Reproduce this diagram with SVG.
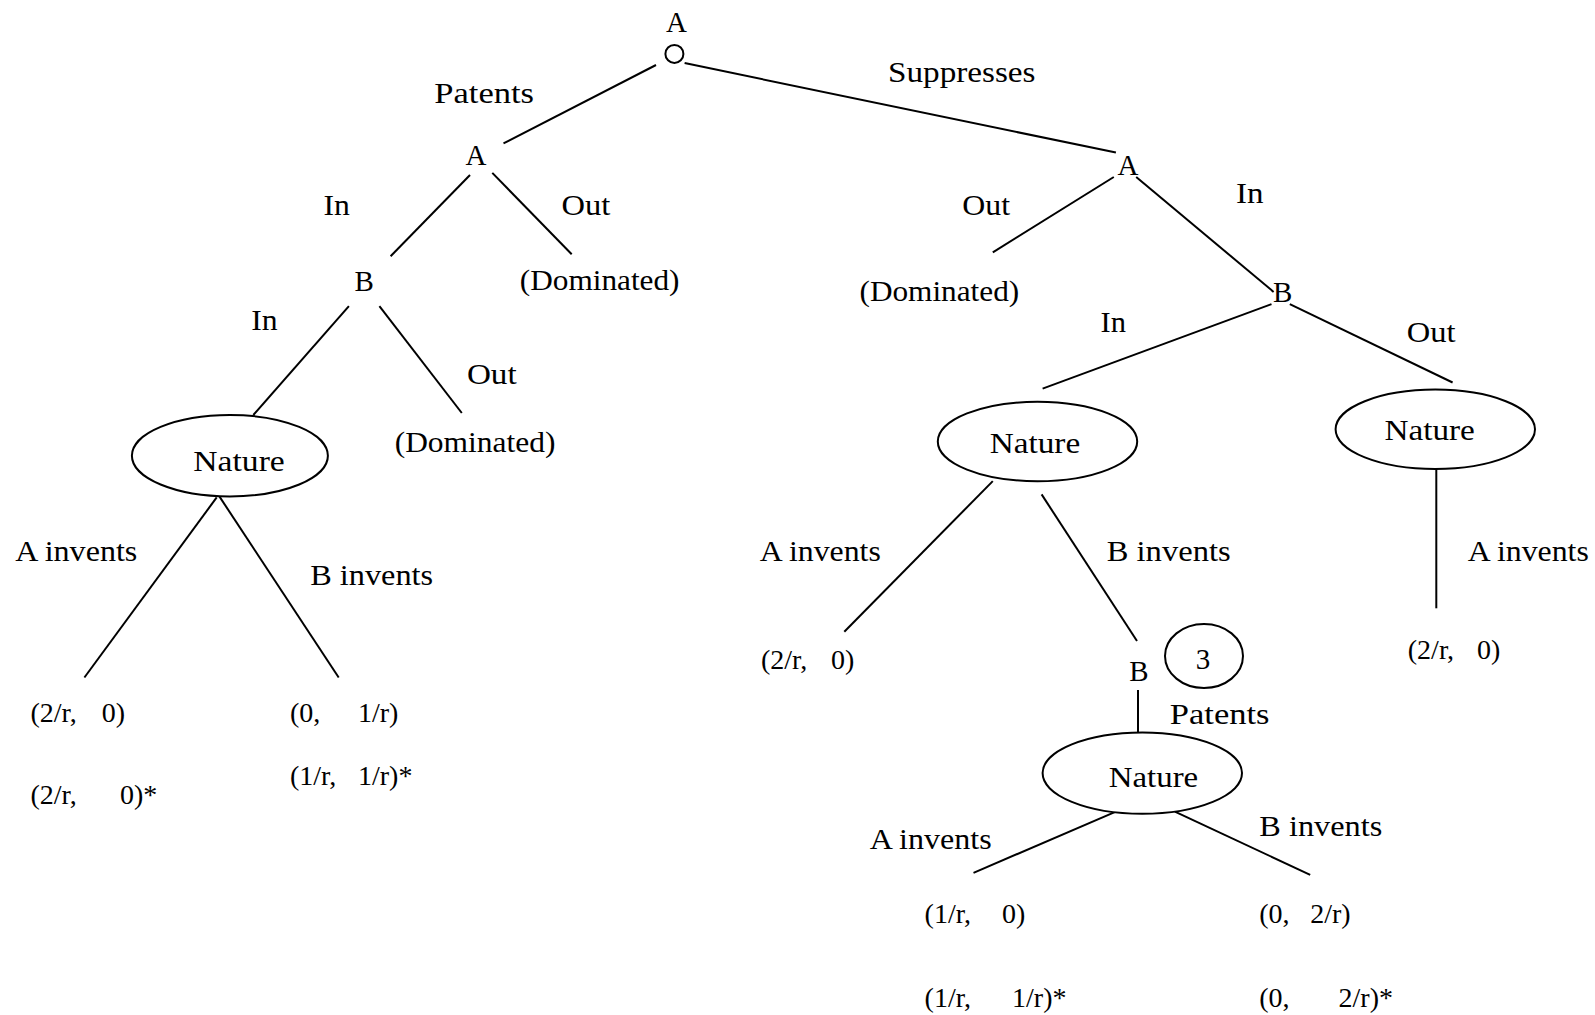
<svg xmlns="http://www.w3.org/2000/svg" width="1595" height="1015" viewBox="0 0 1595 1015">
<style>
.lbl{font-family:"Liberation Serif","Times New Roman",serif;font-size:29px;fill:#000}
.pay{font-family:"Liberation Serif","Times New Roman",serif;font-size:28px;fill:#000}
.mid{text-anchor:middle}
.edge{stroke:#000;stroke-width:2;fill:none}
.shape{stroke:#000;stroke-width:2;fill:#fff}
</style>
<rect width="1595" height="1015" fill="#fff"/>
<g id="connectors">
<line class="edge" x1="656" y1="65" x2="503.5" y2="143.4"/>
<line class="edge" x1="684.6" y1="63.1" x2="1115.9" y2="152.6"/>
<line class="edge" x1="470" y1="175" x2="390.6" y2="256.3"/>
<line class="edge" x1="492.3" y1="172.9" x2="571.7" y2="254.3"/>
<line class="edge" x1="348.9" y1="306.2" x2="253.3" y2="415"/>
<line class="edge" x1="379.4" y1="306.2" x2="461.8" y2="413"/>
<line class="edge" x1="1113.8" y1="177" x2="992.8" y2="252.3"/>
<line class="edge" x1="1136.2" y1="177" x2="1273.6" y2="291.9"/>
<line class="edge" x1="1271.5" y1="304.1" x2="1042.6" y2="388.6"/>
<line class="edge" x1="1289.8" y1="304.1" x2="1452.6" y2="382.5"/>
<line class="edge" x1="216.7" y1="497.4" x2="84.4" y2="677.5"/>
<line class="edge" x1="218.7" y1="495.4" x2="338.7" y2="677.5"/>
<line class="edge" x1="992.8" y1="481.1" x2="844.3" y2="631.7"/>
<line class="edge" x1="1041.6" y1="494.4" x2="1137" y2="641"/>
<line class="edge" x1="1436.3" y1="469" x2="1436.3" y2="608.3"/>
<line class="edge" x1="1138" y1="690" x2="1138" y2="732"/>
<line class="edge" x1="1115.9" y1="811.7" x2="973.5" y2="872.8"/>
<line class="edge" x1="1174.9" y1="811.7" x2="1310.2" y2="874.8"/>
</g>
<g id="root"><text class="lbl mid" x="676.4" y="31.5">A</text><circle class="shape" cx="674.4" cy="53.9" r="9"/></g>
<text class="lbl" x="434.3" y="102.7" textLength="99.7" lengthAdjust="spacingAndGlyphs">Patents</text>
<text class="lbl" x="888" y="82.4" textLength="147.5" lengthAdjust="spacingAndGlyphs">Suppresses</text>
<g id="nodeA1"><text class="lbl mid" x="476" y="164.8">A</text></g>
<g id="nodeA2"><text class="lbl mid" x="1128" y="175">A</text></g>
<text class="lbl" x="323.5" y="214.6" textLength="26.4" lengthAdjust="spacingAndGlyphs">In</text>
<text class="lbl" x="561.5" y="214.6" textLength="48.8" lengthAdjust="spacingAndGlyphs">Out</text>
<text class="lbl" x="962.3" y="214.6" textLength="47.8" lengthAdjust="spacingAndGlyphs">Out</text>
<text class="lbl" x="1235.9" y="203.4" textLength="27.5" lengthAdjust="spacingAndGlyphs">In</text>
<g id="nodeB1"><text class="lbl mid" x="364.2" y="291">B</text></g>
<g id="dom1"><text class="lbl" x="519.8" y="290" textLength="159.7" lengthAdjust="spacingAndGlyphs">(Dominated)</text></g>
<g id="dom2"><text class="lbl" x="859.5" y="301" textLength="159.7" lengthAdjust="spacingAndGlyphs">(Dominated)</text></g>
<g id="nodeB2"><text class="lbl mid" x="1282.7" y="302">B</text></g>
<text class="lbl" x="251.2" y="329.6" textLength="26.4" lengthAdjust="spacingAndGlyphs">In</text>
<text class="lbl" x="1100.6" y="331.6" textLength="25.4" lengthAdjust="spacingAndGlyphs">In</text>
<text class="lbl" x="1406.8" y="341.8" textLength="48.8" lengthAdjust="spacingAndGlyphs">Out</text>
<text class="lbl" x="466.9" y="383.5" textLength="49.8" lengthAdjust="spacingAndGlyphs">Out</text>
<g id="dom3"><text class="lbl" x="394.7" y="451.6" textLength="160.7" lengthAdjust="spacingAndGlyphs">(Dominated)</text></g>
<g id="nature1"><ellipse class="shape" cx="229.9" cy="455.7" rx="98" ry="40.7"/><text class="lbl" x="193.3" y="471" textLength="91.5" lengthAdjust="spacingAndGlyphs">Nature</text></g>
<g id="nature2"><ellipse class="shape" cx="1037.5" cy="441.5" rx="99.7" ry="39.7"/><text class="lbl" x="989.7" y="452.7" textLength="90.5" lengthAdjust="spacingAndGlyphs">Nature</text></g>
<g id="nature3"><ellipse class="shape" cx="1435.3" cy="429.3" rx="99.7" ry="39.7"/><text class="lbl" x="1384.4" y="440.4" textLength="90.5" lengthAdjust="spacingAndGlyphs">Nature</text></g>
<text class="lbl" x="15.3" y="560.5" textLength="122" lengthAdjust="spacingAndGlyphs">A invents</text>
<text class="lbl" x="310.2" y="584.9" textLength="123" lengthAdjust="spacingAndGlyphs">B invents</text>
<text class="lbl" x="759.8" y="560.5" textLength="121" lengthAdjust="spacingAndGlyphs">A invents</text>
<text class="lbl" x="1106.7" y="560.5" textLength="124" lengthAdjust="spacingAndGlyphs">B invents</text>
<text class="lbl" x="1467.8" y="560.5" textLength="121" lengthAdjust="spacingAndGlyphs">A invents</text>
<g id="pay1"><text class="pay" y="722.2"><tspan x="30.5">(2/r, </tspan><tspan x="101.7">0)</tspan></text><text class="pay" y="803.6"><tspan x="30.5">(2/r, </tspan><tspan x="120">0)*</tspan></text></g>
<g id="pay2"><text class="pay" y="722.2"><tspan x="289.9">(0, </tspan><tspan x="358">1/r)</tspan></text><text class="pay" y="785.3"><tspan x="289.9">(1/r, </tspan><tspan x="358">1/r)*</tspan></text></g>
<g id="pay3"><text class="pay" y="669.3"><tspan x="760.9">(2/r, </tspan><tspan x="831">0)</tspan></text></g>
<g id="pay4"><text class="pay" y="659"><tspan x="1407.8">(2/r, </tspan><tspan x="1477">0)</tspan></text></g>
<g id="nodeB3"><text class="lbl mid" x="1139" y="680.5">B</text><ellipse class="shape" cx="1204" cy="656" rx="39" ry="32"/><text class="lbl mid" x="1203" y="669">3</text></g>
<text class="lbl" x="1169.8" y="724.2" textLength="99.7" lengthAdjust="spacingAndGlyphs">Patents</text>
<g id="nature4"><ellipse class="shape" cx="1142.3" cy="773.1" rx="99.7" ry="40.7"/><text class="lbl" x="1108.7" y="787.3" textLength="89.5" lengthAdjust="spacingAndGlyphs">Nature</text></g>
<text class="lbl" x="869.7" y="849.4" textLength="122" lengthAdjust="spacingAndGlyphs">A invents</text>
<text class="lbl" x="1259.3" y="836.1" textLength="123" lengthAdjust="spacingAndGlyphs">B invents</text>
<g id="pay5"><text class="pay" y="922.6"><tspan x="924.6">(1/r, </tspan><tspan x="1002">0)</tspan></text><text class="pay" y="1007"><tspan x="924.6">(1/r, </tspan><tspan x="1012.1">1/r)*</tspan></text></g>
<g id="pay6"><text class="pay" y="922.6"><tspan x="1259.3">(0, </tspan><tspan x="1310.2">2/r)</tspan></text><text class="pay" y="1007"><tspan x="1259.3">(0, </tspan><tspan x="1338.6">2/r)*</tspan></text></g>
</svg>
